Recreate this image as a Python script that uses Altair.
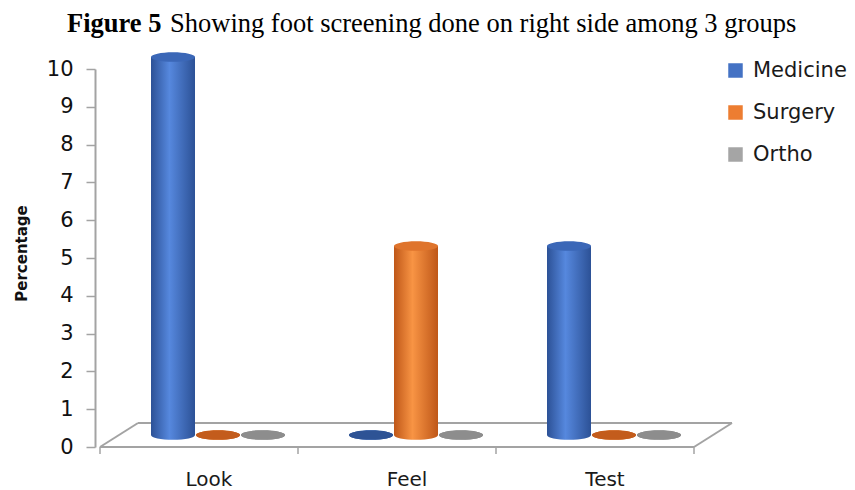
import altair as alt
import pandas as pd

# ---- data -------------------------------------------------------------
categories = ["Look", "Feel", "Test"]
series = ["Medicine", "Surgery", "Ortho"]
medicine = [10, 0, 5]
surgery = [0, 5, 0]
ortho = [0, 0, 0]
y_ticks = list(range(0, 11))

values_by_series = {"Medicine": medicine, "Surgery": surgery, "Ortho": ortho}

rows = []
for s in series:
    for i, (c, v) in enumerate(zip(categories, values_by_series[s])):
        rows.append({"category": c, "slot": i + 0.5, "series": s, "value": v})
df = pd.DataFrame(rows)
cats = pd.DataFrame({"category": categories, "slot": [i + 0.5 for i in range(len(categories))]})

# ---- pseudo-3D geometry (pixels) --------------------------------------
PLOT_W, PLOT_H = 760, 378
FLOOR_W = 604                 # length of the floor's front edge
DEPTH_X, DEPTH_Y = 38, -24    # shift of the floor's back edge
MID_X, MID_Y = 19, -12        # cylinders stand half way into the floor
BAR_W = 44
BAR_STEP = 45
FLOOR_C = "#a3a3a3"

styles = {
    "Medicine": dict(legend="#4472C4", edge="#2c5196", mid="#5688de", top="#3b67b7", flat="#2e5395"),
    "Surgery": dict(legend="#ED7D31", edge="#bf5718", mid="#f89444", top="#df742c", flat="#c35c1c"),
    "Ortho": dict(legend="#A5A5A5", edge="#7e7e7e", mid="#b9b9b9", top="#999999", flat="#8d8d8d"),
}

ELLIPSE = "M-1,0A1,0.22,0,1,1,1,0A1,0.22,0,1,1,-1,0Z"
ELLIPSE_SIZE = BAR_W * BAR_W

x_scale = alt.Scale(domain=[0, len(categories)], range=[0, FLOOR_W])
y_scale = alt.Scale(domain=[0, 10], nice=False, zero=True)

y_axis = alt.Axis(
    values=y_ticks, grid=False, tickSize=9, tickWidth=1.5, tickColor=FLOOR_C,
    domainColor=FLOOR_C, domainWidth=2,
    labelFont="DejaVu Sans", labelFontSize=21, labelColor="#111111", labelPadding=13,
    title="Percentage", titleFont="DejaVu Sans", titleFontSize=15,
    titleFontWeight="bold", titleColor="#111111", titleAngle=-90,
    titleX=-74, titleY=184, titleAlign="center", titleBaseline="middle",
)


def xenc(field):
    return alt.X(field, type="quantitative", scale=x_scale, axis=None)


def yenc(field):
    # every layer carries the same axis so the shared y axis is kept
    return alt.Y(field, type="quantitative", scale=y_scale, axis=y_axis)


floor_base = pd.DataFrame({"x0": [0], "x1": [len(categories)], "base": [0]})
floor_edges = pd.DataFrame({"edge": [0, len(categories)], "base": [0, 0]})
floor_ticks = pd.DataFrame({"edge": list(range(len(categories) + 1)), "base": [0] * (len(categories) + 1)})

front = alt.Chart(floor_base).mark_rule(color=FLOOR_C, strokeWidth=2).encode(
    x=xenc("x0"), x2="x1", y=yenc("base"),
)
back = alt.Chart(floor_base).mark_rule(
    color=FLOOR_C, strokeWidth=2, xOffset=DEPTH_X, x2Offset=DEPTH_X,
    yOffset=DEPTH_Y, y2Offset=DEPTH_Y,
).encode(x=xenc("x0"), x2="x1", y=yenc("base"))
sides = alt.Chart(floor_edges).mark_rule(
    color=FLOOR_C, strokeWidth=2, x2Offset=DEPTH_X, y2Offset=DEPTH_Y,
).encode(x=xenc("edge"), x2="edge", y=yenc("base"), y2="base")
ticks = alt.Chart(floor_ticks).mark_rule(color=FLOOR_C, strokeWidth=1.5, y2Offset=7).encode(
    x=xenc("edge"), y=yenc("base"), y2="base"
)

layers = [front, back, sides, ticks]

# ---- cylinders --------------------------------------------------------
for k, s in enumerate(series):
    st = styles[s]
    off = MID_X + (k - 1) * BAR_STEP
    grad = alt.Gradient(
        gradient="linear", x1=0, x2=1, y1=0, y2=0,
        stops=[
            alt.GradientStop(offset=0, color=st["edge"]),
            alt.GradientStop(offset=0.42, color=st["mid"]),
            alt.GradientStop(offset=1, color=st["edge"]),
        ],
    )
    sdf = df[df["series"] == s]
    base = alt.Chart(sdf).mark_point(
        shape=ELLIPSE, size=ELLIPSE_SIZE, filled=True, fill=grad, opacity=1,
        strokeWidth=0, xOffset=off, yOffset=MID_Y,
    ).encode(x=xenc("slot"), y=yenc("base:Q")).transform_calculate(base="0")
    body = alt.Chart(sdf).mark_bar(
        width=BAR_W, fill=grad, xOffset=off, yOffset=MID_Y, y2Offset=MID_Y, strokeWidth=0,
    ).encode(x=xenc("slot"), y=yenc("value"), y2="base:Q").transform_calculate(base="0")
    top = alt.Chart(sdf).mark_point(
        shape=ELLIPSE, size=ELLIPSE_SIZE, filled=True, opacity=1, strokeWidth=0,
        xOffset=off, yOffset=MID_Y,
    ).encode(
        x=xenc("slot"), y=yenc("value"),
        fill=alt.condition(alt.datum.value > 0, alt.value(st["top"]), alt.value(st["flat"])),
    )
    layers += [base, body, top]

# ---- legend -----------------------------------------------------------
legend_layer = alt.Chart(df[df["category"] == categories[0]]).mark_point(
    shape="square", filled=True, opacity=0
).encode(
    x=xenc("slot"), y=yenc("value"),
    color=alt.Color(
        "series:N",
        scale=alt.Scale(domain=series, range=[styles[s]["legend"] for s in series]),
        legend=alt.Legend(
            title=None, orient="none", legendX=630, legendY=-9,
            symbolType="square", symbolSize=210, symbolOpacity=1, symbolStrokeWidth=0,
            labelFont="DejaVu Sans", labelFontSize=21, labelColor="#1a1a1a",
            labelOffset=7, rowPadding=20,
        ),
    ),
)
layers.append(legend_layer)

# ---- category labels --------------------------------------------------
cat_labels = alt.Chart(cats).mark_text(
    font="DejaVu Sans", fontSize=20, color="#1a1a1a", align="center",
    baseline="alphabetic", dx=10, dy=39,
).encode(x=xenc("slot"), y=yenc("base:Q"), text="category").transform_calculate(base="0")
layers.append(cat_labels)

# ---- caption ----------------------------------------------------------
cap = pd.DataFrame({"bold": ["Figure 5"], "rest": ["Showing foot screening done on right side among 3 groups"]})
cap_bold = alt.Chart(cap).mark_text(
    font="Liberation Serif", fontSize=26.5, fontWeight="bold", color="#000000",
    align="left", baseline="alphabetic",
).encode(x=alt.value(-28), y=alt.value(-37), text="bold")
cap_rest = alt.Chart(cap).mark_text(
    font="Liberation Serif", fontSize=26.5, color="#000000",
    align="left", baseline="alphabetic",
).encode(x=alt.value(75), y=alt.value(-37), text="rest")
layers += [cap_bold, cap_rest]

chart = alt.layer(*layers).properties(
    width=PLOT_W, height=PLOT_H, background="white",
    padding={"left": 95, "top": 69, "right": 0, "bottom": 43},
    autosize=alt.AutoSizeParams(type="none"),
).configure_view(stroke=None)

chart.save("out.html", embed_options={"renderer": "svg", "actions": False})
